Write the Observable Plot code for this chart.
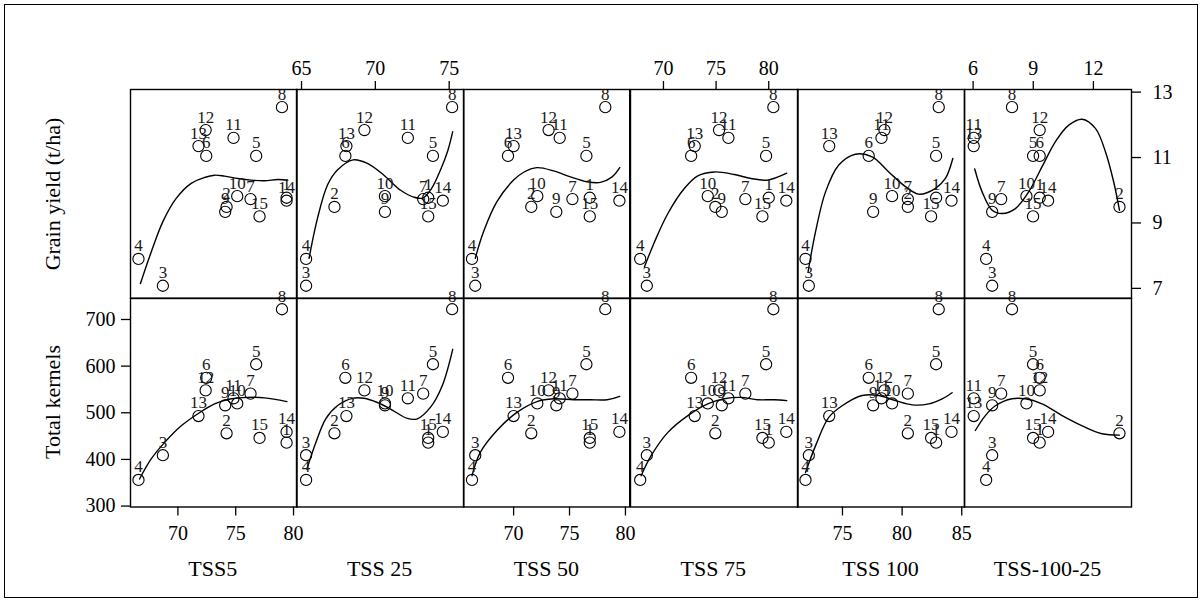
<!DOCTYPE html>
<html><head><meta charset="utf-8">
<script src="https://cdn.jsdelivr.net/npm/d3@7"></script>
<script src="https://cdn.jsdelivr.net/npm/@observablehq/plot@0.6"></script>
<style>
html,body{margin:0;padding:0;background:#fff;}
#root{position:relative;width:1203px;height:603px;overflow:hidden;font-family:'Liberation Serif','Tinos','Times New Roman','Noto Serif','DejaVu Serif','FreeSerif','Nimbus Roman',Times,serif;}
#border{position:absolute;left:4px;top:4px;width:1194px;height:594px;border:1.5px solid #000;box-sizing:border-box;}
.panel{position:absolute;}
.title{position:absolute;font-size:22px;white-space:nowrap;color:#000;line-height:1;}
</style></head><body><div id="root"><div id="border"></div></div>
<script>
// ---- data ----
const genotype = [1,2,3,4,5,6,7,8,9,10,11,12,13,14,15];
const grainYield = [9.77, 9.49, 7.08, 7.90, 11.05, 11.05, 9.73, 12.54, 9.34, 9.82, 11.60, 11.84, 11.35, 9.68, 9.20];
const totalKernels = [436, 456, 409, 356, 604, 575, 541, 722, 516, 520, 531, 548, 493, 459, 446];

const tss5   = [79.4, 74.21, 68.70, 66.59, 76.77, 72.45, 76.28, 79.0, 74.09, 75.13, 74.81, 72.4, 71.78, 79.4, 77.06];
const tss25  = [73.58, 67.23, 65.31, 65.31, 73.9, 67.97, 73.24, 75.2, 70.65, 70.65, 72.2, 69.26, 68.04, 74.57, 73.58];
const tss50  = [76.81, 71.58, 66.57, 66.28, 76.51, 69.5, 75.26, 78.2, 73.82, 72.12, 74.12, 73.13, 70.0, 79.46, 76.81];
const tss75  = [80.0, 74.93, 68.42, 67.79, 79.75, 72.63, 77.78, 80.44, 75.54, 74.21, 76.17, 75.28, 72.97, 81.67, 79.4];
const tss100 = [82.85, 80.48, 72.18, 71.9, 82.85, 77.2, 80.48, 83.07, 77.57, 79.16, 78.27, 78.52, 73.89, 84.14, 82.43];
const tssDiff = [9.32, 13.3, 6.95, 6.65, 8.99, 9.32, 7.4, 7.94, 6.95, 8.66, 6.03, 9.32, 6.03, 9.74, 8.99];

const columnNames = ["TSS5", "TSS 25", "TSS 50", "TSS 75", "TSS 100", "TSS-100-25"];
const rowTitles = ["Grain yield (t/ha)", "Total kernels"];

// smooth fitted curves: [x, y]
const fitYield_TSS5 = [[66.76,7.15],[67.7,8.12],[68.7,9.04],[69.85,9.75],[71.15,10.21],[72.3,10.39],[73.17,10.46],[74.03,10.43],[75.19,10.36],[76.34,10.31],[77.5,10.29],[78.65,10.33],[79.5,10.31]];
const fitKernels_TSS5 = [[66.68,358],[67.69,401],[68.84,436],[70.29,472],[71.73,498],[73.17,519],[74.61,530],[76.06,533],[77.5,532],[79.43,524]];
const fitYield_TSS25 = [[65.51,7.92],[66.08,9.14],[66.76,10.16],[67.43,10.62],[68.5,10.93],[69.46,10.82],[70.58,10.46],[71.71,10.0],[72.6,9.79],[73.2,9.76],[73.8,10.05],[74.41,10.62],[74.9,11.2],[75.24,11.79]];
const fitKernels_TSS25 = [[65.36,379],[65.97,436],[66.64,487],[67.43,515],[68.45,531],[69.23,531],[70.14,522],[71.03,508],[72.16,488],[72.84,487],[73.74,512],[74.53,558],[75.24,636]];
const fitYield_TSS50 = [[66.57,7.92],[67.31,8.73],[68.51,9.65],[70.0,10.31],[70.9,10.55],[72.09,10.69],[73.58,10.59],[75.08,10.41],[76.57,10.26],[77.76,10.24],[78.81,10.41],[79.49,10.69]];
const fitKernels_TSS50 = [[66.28,365],[67.02,415],[68.51,462],[70.3,501],[72.09,524],[73.58,530],[75.37,528],[76.86,528],[78.36,528],[79.49,535]];
const fitYield_TSS75 = [[68.2,7.66],[69.15,8.42],[70.42,9.29],[72.0,10.06],[73.26,10.44],[74.84,10.56],[76.74,10.48],[78.32,10.36],[79.9,10.31],[81.71,10.52]];
const fitKernels_TSS75 = [[67.88,365],[68.83,408],[70.42,458],[72.32,494],[74.21,519],[75.79,530],[77.37,533],[78.96,528],[80.53,528],[81.71,526]];
const fitYield_TSS100 = [[72.12,7.51],[72.74,8.73],[73.58,9.95],[74.69,10.77],[76.09,11.1],[77.49,11.02],[78.88,10.56],[80.28,10.11],[81.4,9.88],[82.8,10.06],[83.63,10.36],[84.25,10.97]];
const fitKernels_TSS100 = [[71.9,372],[72.74,429],[73.85,490],[74.97,515],[76.65,537],[78.04,537],[79.44,526],[80.84,517],[82.23,519],[83.36,530],[84.19,543]];
const fitYield_TSSdiff = [[6.08,10.65],[6.45,9.95],[6.95,9.39],[7.45,9.29],[8.11,9.44],[8.77,9.95],[9.44,10.72],[10.1,11.48],[10.77,11.99],[11.44,12.17],[12.1,11.89],[12.6,11.18],[13.01,10.26],[13.3,9.39]];
const fitKernels_TSSdiff = [[6.11,462],[6.61,494],[7.11,515],[7.94,530],[8.61,530],[9.44,519],[10.44,494],[11.44,472],[12.43,455],[13.3,452]];

const bottomTicks = [[70,75,80], null, [70,75,80], null, [75,80,85], null];
const topTicks = [null, [65,70,75], null, [70,75,80], null, [6,9,12]];
const yieldTicks = [7, 9, 11, 13];
const kernelTicks = [300, 400, 500, 600, 700];

// ---- layout ----
const tssCols = [tss5, tss25, tss50, tss75, tss100, tssDiff];
const yieldFits = [fitYield_TSS5, fitYield_TSS25, fitYield_TSS50, fitYield_TSS75, fitYield_TSS100, fitYield_TSSdiff];
const kernelFits = [fitKernels_TSS5, fitKernels_TSS25, fitKernels_TSS50, fitKernels_TSS75, fitKernels_TSS100, fitKernels_TSSdiff];
const xDomains = [[65.9,80.3],[64.66,75.99],[65.52,80.38],[66.87,82.78],[71.23,85.23],[5.57,13.9]];
const yDomains = [[6.70,13.08],[298,745]];
const colEdges = [129.5, 296, 463.3, 629.5, 797, 964, 1131];
const rowEdges = [89.3, 298, 506.5];
const M = 70;
const FONT = "'Liberation Serif','Tinos','Times New Roman','Noto Serif','DejaVu Serif','FreeSerif','Nimbus Roman',Times,serif";
const root = document.getElementById("root");
const fmt = d => String(d);

function panel(ci, ri) {
  const x0 = colEdges[ci], x1 = colEdges[ci+1], y0 = rowEdges[ri], y1 = rowEdges[ri+1];
  const w = x1 - x0, h = y1 - y0;
  const xs = tssCols[ci];
  const vals = ri === 0 ? grainYield : totalKernels;
  const rows = genotype.map((g, i) => ({g, x: xs[i], y: vals[i]}));
  const fit = ri === 0 ? yieldFits[ci] : kernelFits[ci];
  const marks = [
    Plot.line(fit, {x: d => d[0], y: d => d[1], stroke: "#000", strokeWidth: 1.4, curve: "catmull-rom"}),
    Plot.dot(rows, {x: "x", y: "y", r: 5.6, stroke: "#000", strokeWidth: 1.1, fill: "none"}),
    Plot.text(rows, {x: "x", y: "y", text: "g", dy: -13, fontSize: 17, fontFamily: FONT, fill: "#1a1a1a"}),
    Plot.frame({stroke: "#000", strokeWidth: 1.4})
  ];
  const axOpts = {tickSize: 9, fontSize: 20, fontFamily: FONT, label: null, strokeWidth: 1.3, tickFormat: fmt};
  if (ri === 1 && bottomTicks[ci]) marks.push(Plot.axisX({...axOpts, anchor: "bottom", ticks: bottomTicks[ci], tickPadding: 10}));
  if (ri === 0 && topTicks[ci]) marks.push(Plot.axisX({...axOpts, anchor: "top", ticks: topTicks[ci], tickPadding: 5}));
  if (ri === 1 && ci === 0) marks.push(Plot.axisY({...axOpts, anchor: "left", ticks: kernelTicks, tickPadding: 6}));
  if (ri === 0 && ci === 5) marks.push(Plot.axisY({...axOpts, anchor: "right", ticks: yieldTicks, tickPadding: 12}));
  const svg = Plot.plot({
    width: w + 2*M, height: h + 2*M,
    marginLeft: M, marginRight: M, marginTop: M, marginBottom: M,
    x: {domain: xDomains[ci], axis: null},
    y: {domain: yDomains[ri], axis: null},
    style: {background: "transparent", overflow: "visible", fontFamily: FONT, fontSize: "20px", color: "#000"},
    marks
  });
  svg.classList.add("panel");
  svg.style.position = "absolute";
  svg.style.left = (x0 - M) + "px";
  svg.style.top = (y0 - M) + "px";
  svg.style.maxWidth = "none";
  root.appendChild(svg);
}

for (let ri = 0; ri < 2; ri++) for (let ci = 0; ci < 6; ci++) panel(ci, ri);

// column titles
columnNames.forEach((name, ci) => {
  const d = document.createElement("div");
  d.className = "title";
  d.textContent = name;
  d.style.left = ((colEdges[ci] + colEdges[ci+1]) / 2) + "px";
  d.style.top = "569px";
  d.style.transform = "translate(-50%,-50%)";
  root.appendChild(d);
});
// row titles
rowTitles.forEach((t, ri) => {
  const d = document.createElement("div");
  d.className = "title";
  d.textContent = t;
  d.style.left = "53px";
  d.style.top = ((rowEdges[ri] + rowEdges[ri+1]) / 2) + "px";
  d.style.transform = "translate(-50%,-50%) rotate(-90deg)";
  root.appendChild(d);
});
</script></body></html>
